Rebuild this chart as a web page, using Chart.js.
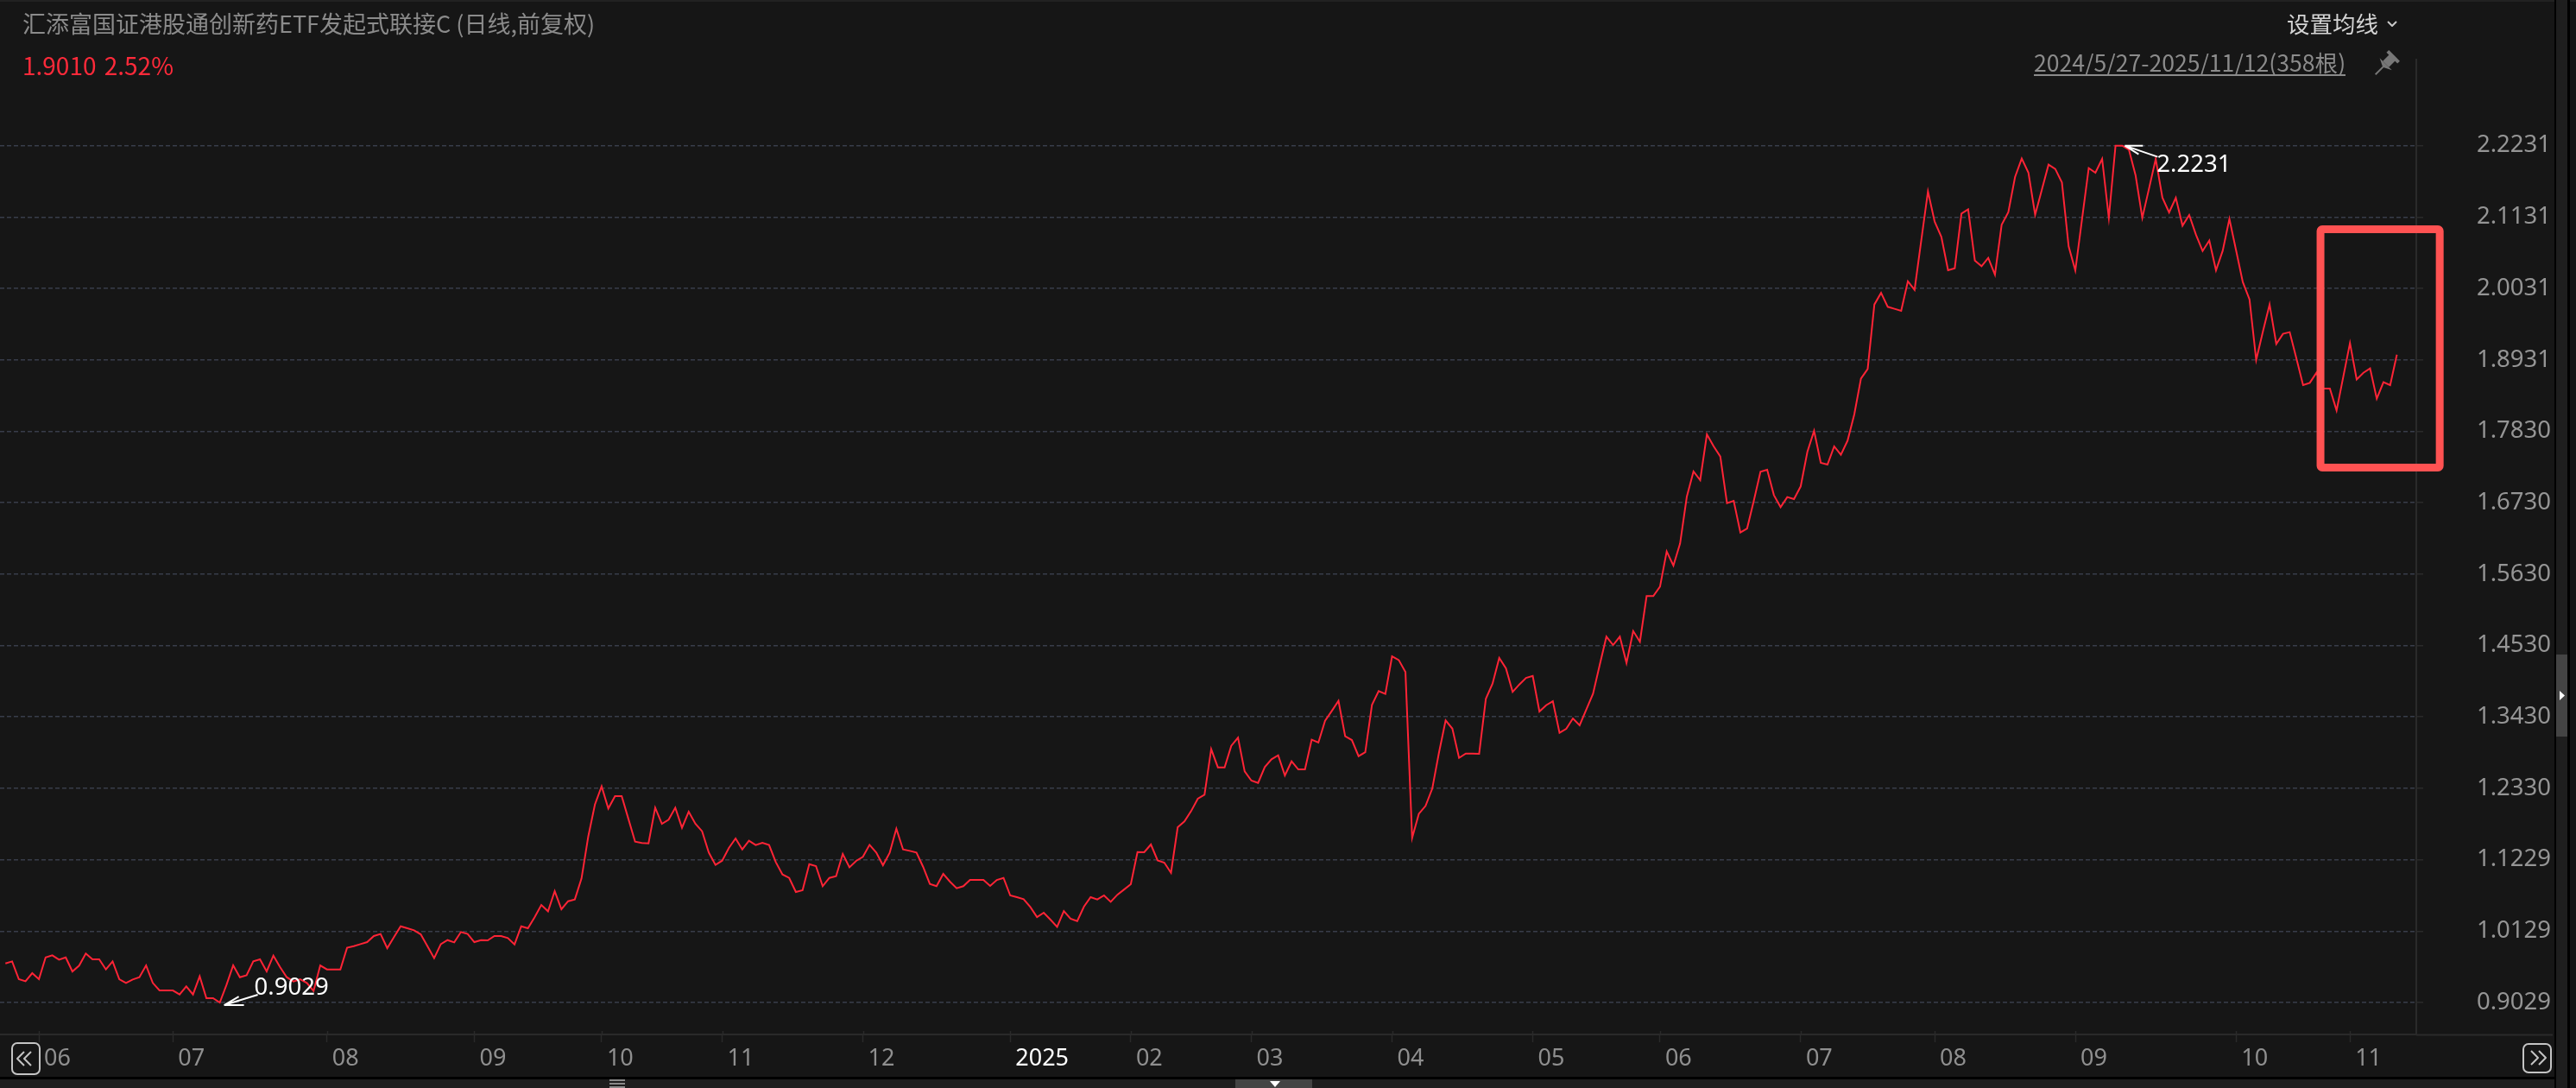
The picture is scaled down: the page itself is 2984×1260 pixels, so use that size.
<!DOCTYPE html>
<html lang="zh">
<head>
<meta charset="utf-8">
<title>汇添富国证港股通创新药ETF发起式联接C</title>
<script src="https://cdn.jsdelivr.net/npm/chart.js@4"></script>
<style>
html,body{margin:0;padding:0;background:#161616;width:2984px;height:1260px;overflow:hidden}
#wrap{position:relative;width:2984px;height:1260px}
canvas{position:absolute;left:0;top:0}
.t{position:absolute;white-space:nowrap;font-family:"Noto Sans CJK SC","Noto Sans",sans-serif;font-size:26px;line-height:30px}
.band{position:absolute}
</style>
</head>
<body>
<div id="wrap">
<div class="band" style="left:0;top:0;width:2984px;height:2px;background:#222"></div>
<div class="band" style="left:0;top:1247px;width:2961px;height:3px;background:#000"></div>
<div class="band" style="left:0;top:1250px;width:2961px;height:10px;background:#1e1e1e"></div>
<div class="band" style="left:1431px;top:1250px;width:89px;height:10px;background:#444"></div>
<div class="band" style="left:2959px;top:0;width:2px;height:1260px;background:#000"></div>
<div class="band" style="left:2961px;top:0;width:13px;height:1260px;background:#1e1e1e"></div>
<div class="band" style="left:2961px;top:758px;width:13px;height:95px;background:#444"></div>
<div class="band" style="left:2974px;top:0;width:3px;height:1260px;background:#000"></div>
<canvas id="c" width="2984" height="1260"></canvas>
<div class="t" style="left:26px;top:12px;color:#8b8b8b;font-size:27px">汇添富国证港股通创新药ETF发起式联接C (日线,前复权)</div>
<div class="t" style="left:26px;top:60px;color:#ff2a3a;font-size:28px;word-spacing:3px">1.9010 2.52%</div>
<div class="t" style="left:2649px;top:12px;color:#d4d4d4;font-size:26.5px">设置均线</div>
<div class="t" style="left:2356px;top:58px;color:#8b8b8b;font-size:26.6px;border-bottom:2px solid #8b8b8b;line-height:28px">2024/5/27-2025/11/12(358根)</div>
</div>
<script>
const navValues = [
0.9632,0.9663,0.9388,0.9357,0.9481,0.9388,0.9725,0.9756,0.9690,0.9725,
0.9508,0.9597,0.9783,0.9694,0.9694,0.9539,0.9663,0.9388,0.9331,0.9384,
0.9419,0.9601,0.9331,0.9215,0.9215,0.9215,0.9153,0.9277,0.9153,0.9433,
0.9096,0.9096,0.9029,0.9300,0.9601,0.9419,0.9450,0.9663,0.9694,0.9508,
0.9752,0.9575,0.9419,0.9353,0.9388,0.9331,0.9206,0.9601,0.9539,0.9539,
0.9539,0.9872,0.9898,0.9929,0.9960,1.0054,1.0085,0.9867,1.0036,1.0204,
1.0173,1.0142,1.0080,0.9898,0.9712,0.9929,0.9991,0.9956,1.0116,1.0085,
0.9960,0.9991,0.9987,1.0054,1.0054,1.0023,0.9925,1.0204,1.0173,1.0342,
1.0532,1.0435,1.0745,1.0466,1.0590,1.0617,1.0940,1.1583,1.2080,1.2360,
1.2018,1.2209,1.2209,1.1858,1.1508,1.1486,1.1481,1.2031,1.1783,1.1845,
1.2031,1.1721,1.1969,1.1783,1.1668,1.1340,1.1149,1.1215,1.1411,1.1557,
1.1388,1.1521,1.1455,1.1490,1.1455,1.1193,1.1003,1.0949,1.0732,1.0759,
1.1162,1.1131,1.0821,1.0949,1.0976,1.1317,1.1113,1.1211,1.1273,1.1459,
1.1340,1.1144,1.1335,1.1708,1.1388,1.1366,1.1340,1.1118,1.0856,1.0821,
1.1011,1.0892,1.0790,1.0821,1.0918,1.0918,1.0918,1.0825,1.0918,1.0949,
1.0679,1.0652,1.0621,1.0501,1.0346,1.0413,1.0306,1.0195,1.0439,1.0320,
1.0284,1.0506,1.0652,1.0617,1.0679,1.0581,1.0690,1.0770,1.0852,1.1348,
1.1344,1.1464,1.1220,1.1184,1.1029,1.1730,1.1818,1.1978,1.2169,1.2231,
1.2932,1.2652,1.2652,1.2985,1.3109,1.2590,1.2448,1.2413,1.2656,1.2777,
1.2838,1.2528,1.2745,1.2621,1.2621,1.3078,1.3034,1.3371,1.3521,1.3677,
1.3131,1.3073,1.2825,1.2887,1.3615,1.3827,1.3783,1.4364,1.4306,1.4120,
1.1566,1.1938,1.2058,1.2324,1.2878,1.3375,1.3250,1.2798,1.2865,1.2865,
1.2861,1.3708,1.3943,1.4337,1.4178,1.3814,1.3929,1.4031,1.4062,1.3513,
1.3610,1.3672,1.3184,1.3246,1.3406,1.3300,1.3544,1.3787,1.4231,1.4666,
1.4537,1.4666,1.4260,1.4752,1.4588,1.5291,1.5291,1.5437,1.5978,1.5761,
1.6102,1.6821,1.7211,1.7078,1.7783,1.7601,1.7442,1.6723,1.6759,1.6271,
1.6333,1.6759,1.7206,1.7238,1.6847,1.6661,1.6817,1.6785,1.6981,1.7513,
1.7836,1.7344,1.7317,1.7597,1.7468,1.7686,1.8089,1.8643,1.8790,1.9783,
1.9963,1.9748,1.9717,1.9686,2.0142,2.0009,2.0772,2.1526,2.1060,2.0825,
2.0311,2.0342,2.1185,2.1251,2.0462,2.0373,2.0502,2.0244,2.1012,2.1207,
2.1748,2.2032,2.1814,2.1167,2.1553,2.1938,2.1872,2.1663,2.0679,2.0307,
2.1096,2.1885,2.1814,2.2027,2.1118,2.2231,2.2231,2.2169,2.1770,2.1118,
2.1570,2.2027,2.1428,2.1202,2.1428,2.0998,2.1162,2.0861,2.0608,2.0770,
2.0311,2.0612,2.1102,2.0617,2.0129,1.9863,1.8930,1.9365,1.9783,1.9176,
1.9331,1.9358,1.8954,1.8541,1.8577,1.8732,1.8488,1.8488,1.8151,1.8670,
1.9189,1.8630,1.8732,1.8799,1.8333,1.8586,1.8541,1.9010
];
const yTickValues = [2.2231,2.1131,2.0031,1.8931,1.7830,1.6730,1.5630,1.4530,1.3430,1.2330,1.1229,1.0129,0.9029];
const monthTickIndex = [5,25,48,70,89,107,128,150,168,186,207,228,247,268,288,309,333,350];
const monthTickLabels = ["06","07","08","09","10","11","12","2025","02","03","04","05","06","07","08","09","10","11"];
const extremes = [
  {index:32,value:0.9029,text:"0.9029",tip:[5,3],tail:[39,-12],barbs:[[17,-10],[23,0]],text_at:[35,-20]},
  {index:316,value:2.2231,text:"2.2231",tip:[3,0],tail:[38,13],barbs:[[21,0],[16,10]],text_at:[37,23]}
];
const highlightBox = {xMin:345.6,xMax:363.4,yMax:2.0943,yMin:1.7271};

const chromePlugin = {
  id:"chrome",
  afterDatasetsDraw(chart){
    const {ctx,scales:{x,y},chartArea:a} = chart;
    ctx.save();
    ctx.strokeStyle="#2a2a2a"; ctx.lineWidth=2;
    ctx.beginPath(); ctx.moveTo(a.right,a.bottom+0.5); ctx.lineTo(2957,a.bottom+0.5); ctx.stroke();
    ctx.lineWidth=1.5;
    monthTickIndex.forEach(i=>{const p=Math.round(x.getPixelForValue(i))+0.5;ctx.beginPath();ctx.moveTo(p,a.bottom-4);ctx.lineTo(p,a.bottom+1);ctx.stroke();});
    ctx.font='27.5px "Noto Sans","Noto Sans CJK SC",sans-serif';
    ctx.textBaseline="middle"; ctx.textAlign="left";
    extremes.forEach(e=>{
      const px=x.getPixelForValue(e.index)+e.tip[0], py=y.getPixelForValue(e.value)+e.tip[1];
      ctx.strokeStyle="#fff"; ctx.fillStyle="#fff"; ctx.lineWidth=2;
      ctx.beginPath();
      ctx.moveTo(px+e.tail[0],py+e.tail[1]); ctx.lineTo(px,py);
      e.barbs.forEach(b=>{ctx.moveTo(px,py);ctx.lineTo(px+b[0],py+b[1]);});
      ctx.stroke();
      ctx.fillText(e.text,px+e.text_at[0],py+e.text_at[1]);
    });
    const bx=x.getPixelForValue(highlightBox.xMin), bx2=x.getPixelForValue(highlightBox.xMax);
    const by=y.getPixelForValue(highlightBox.yMax), by2=y.getPixelForValue(highlightBox.yMin);
    ctx.strokeStyle="#ff5252"; ctx.lineWidth=9; ctx.lineJoin="round";
    ctx.beginPath(); ctx.roundRect(bx,by,bx2-bx,by2-by,2); ctx.stroke();
    ctx.strokeStyle="#c8c8c8"; ctx.lineWidth=2;
    ctx.beginPath(); ctx.moveTo(2766,25); ctx.lineTo(2771,30); ctx.lineTo(2776,25); ctx.stroke();
    ctx.translate(2763,75); ctx.rotate(Math.PI/4); ctx.fillStyle="#777";
    ctx.fillRect(-5,-13,10,12); ctx.fillRect(-9,-15,18,4);
    ctx.beginPath(); ctx.moveTo(-10,-1); ctx.lineTo(10,-1); ctx.lineTo(0,4); ctx.fill();
    ctx.fillRect(-1,3,2,13);
    ctx.setTransform(1,0,0,1,0,0);
    ctx.strokeStyle="#c4c4c4"; ctx.lineWidth=2;
    ctx.beginPath(); ctx.roundRect(14,1208,32,36,6); ctx.stroke();
    ctx.beginPath(); ctx.roundRect(2923,1209,32,33,6); ctx.stroke();
    ctx.beginPath();
    [[28,1],[36,1]].forEach(s=>{ctx.moveTo(s[0],1218);ctx.lineTo(s[0]-8,1226);ctx.lineTo(s[0],1234);});
    [[2932,1],[2941,1]].forEach(s=>{ctx.moveTo(s[0],1217);ctx.lineTo(s[0]+8,1225);ctx.lineTo(s[0],1233);});
    ctx.stroke();
    ctx.fillStyle="#fff";
    ctx.beginPath(); ctx.moveTo(1471,1252); ctx.lineTo(1483,1252); ctx.lineTo(1477,1259); ctx.fill();
    ctx.beginPath(); ctx.moveTo(2965,800); ctx.lineTo(2971,805.5); ctx.lineTo(2965,811); ctx.fill();
    ctx.fillStyle="#8a8a8a";
    for(let r=0;r<3;r++){ctx.fillRect(706,1250+r*4,18,2);}
    ctx.restore();
  }
};

new Chart(document.getElementById("c"),{
  type:"line",
  data:{datasets:[{
    data:navValues.map((v,i)=>({x:i,y:v})),
    borderColor:"#ff2436",borderWidth:2,pointRadius:0,tension:0,fill:false,clip:false
  }]},
  plugins:[chromePlugin],
  options:{
    responsive:false,animation:false,parsing:false,normalized:true,
    layout:{padding:{top:69,left:0,right:29,bottom:0}},
    plugins:{legend:{display:false},tooltip:{enabled:false},title:{display:false}},
    scales:{
      x:{
        type:"linear",min:-0.81,max:359.9,
        afterBuildTicks(s){s.ticks=monthTickIndex.map(v=>({value:v}));},
        afterFit(s){s.height=62;},
        grid:{display:true,drawOnChartArea:false,drawTicks:true,tickLength:9,tickColor:"#2a2a2a",tickWidth:1.5},
        border:{display:true,color:"#2a2a2a",width:2},
        ticks:{
          autoSkip:false,maxRotation:0,minRotation:0,align:"start",labelOffset:6,padding:6,
          color:c=>c.tick&&c.tick.value===150?"#ffffff":"#8f8f8f",
          font:{family:'"Noto Sans","Noto Sans CJK SC",sans-serif',size:27,lineHeight:1},
          callback(v){const k=monthTickIndex.indexOf(v);return k>=0?monthTickLabels[k]:"";}
        }
      },
      y:{
        position:"right",type:"linear",min:0.8537,max:2.3557,
        afterBuildTicks(s){s.ticks=yTickValues.map(v=>({value:v}));},
        afterFit(s){s.width=156;},
        grid:{color:"#383d4a",lineWidth:1.5,drawTicks:true,tickLength:8,tickColor:"#2a2a2a"},
        border:{display:true,color:"#2a2a2a",width:2,dash:[5,3]},
        ticks:{
          autoSkip:false,crossAlign:"far",padding:0,color:"#959595",
          font:{family:'"Noto Sans","Noto Sans CJK SC",sans-serif',size:27.5},
          callback(v){return Number(v).toFixed(4);}
        }
      }
    }
  }
});
</script>
</body>
</html>
